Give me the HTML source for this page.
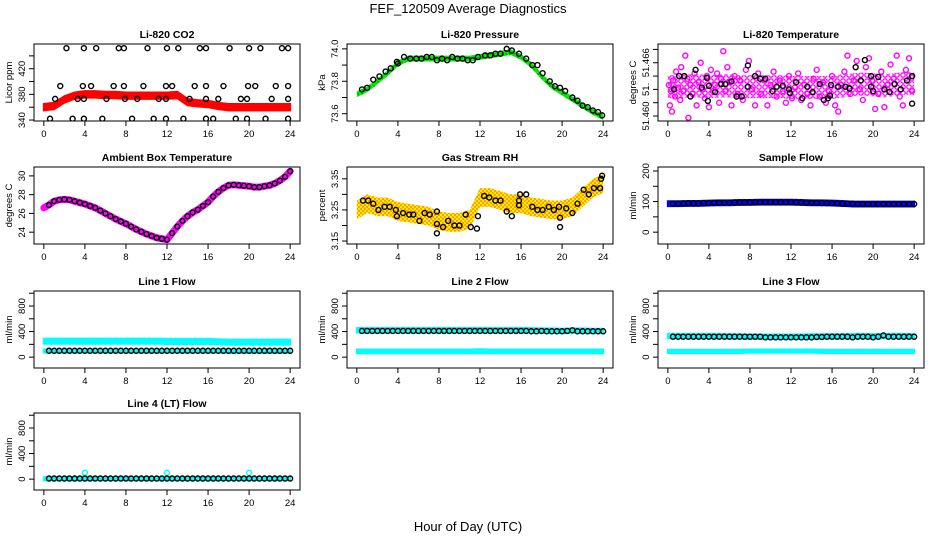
<!DOCTYPE html>
<html><head><meta charset="utf-8"><style>
html,body{margin:0;padding:0;background:#fff}
svg{display:block}
text{font-family:"Liberation Sans",sans-serif;fill:#000}
.t{font-size:10.5px;font-weight:bold}
.tk{font-size:9.5px}
</style></head><body>
<svg id="chart" width="936" height="540" viewBox="0 0 936 540" xmlns="http://www.w3.org/2000/svg">
<defs>
<pattern id="rhpat" width="4" height="4" patternUnits="userSpaceOnUse"><rect width="4" height="4" fill="#ffee00"/><circle cx="1" cy="1" r="1" fill="#ff8800"/><circle cx="3" cy="3" r="1" fill="#ff8800"/></pattern>
<pattern id="grpat" width="4" height="4" patternUnits="userSpaceOnUse"><rect width="4" height="4" fill="#00ee00"/><circle cx="2" cy="2" r="0.7" fill="#007700"/></pattern>
<pattern id="mgpat" width="6" height="6" patternUnits="userSpaceOnUse"><rect width="6" height="6" fill="#ffffff"/><circle cx="3" cy="3" r="2.2" fill="none" stroke="#ff00ff" stroke-width="1.3"/></pattern>
</defs>
<text x="468" y="13" text-anchor="middle" font-size="13">FEF_120509  Average Diagnostics</text>
<text x="468" y="531" text-anchor="middle" font-size="13">Hour of Day (UTC)</text>
</svg>
<script>
// ---- data ----
const hourTicks=[0,4,8,12,16,20,24];
const halfHours=[0.5,1,1.5,2,2.5,3,3.5,4,4.5,5,5.5,6,6.5,7,7.5,8,8.5,9,9.5,10,10.5,11,11.5,12,12.5,13,13.5,14,14.5,15,15.5,16,16.5,17,17.5,18,18.5,19,19.5,20,20.5,21,21.5,22,22.5,23,23.5,24];
const bandHours=[0,1,2,3,4,5,6,7,8,9,10,11,12,13,14,15,16,17,18,19,20,21,22,23,24];

const co2Band=[360,362,372,378,380,380,379,379,378,378,378,378,378,379,368,366,365,362,360,360,360,360,360,360,360];
const co2Hours=[2.2,3.9,5.1,7.3,7.8,10.1,12,13.1,15.2,15.8,18.1,20,21.1,23.2,23.8,1.6,3.8,4.6,6.8,7.8,9.7,11.9,12.5,14.7,15.8,17.5,19.9,20.6,22.6,23.8,1.1,3.3,3.9,6.1,7.9,9.1,11.2,11.9,14.2,15.8,17,19.2,19.8,22.2,23.8,0.6,2.8,3.9,5.7,8.6,10.7,11.9,13.6,15.8,16.5,18.7,19.8,21.6,23.8];
const co2Values=[452,452,452,452,452,452,452,452,452,452,452,452,452,452,452,393,393,393,393,393,393,393,393,393,393,393,393,393,393,393,373,373,373,373,373,373,373,373,373,373,373,373,373,373,373,342,342,342,342,342,342,342,342,342,342,342,342,342,342];

const presBand=[73.72,73.75,73.80,73.85,73.91,73.94,73.94,73.94,73.94,73.94,73.94,73.94,73.95,73.96,73.97,73.98,73.95,73.90,73.83,73.77,73.73,73.69,73.65,73.61,73.58];
const presHours=[0.5,1.0,1.6,2.2,2.8,3.3,3.9,4.0,4.6,5.2,5.8,6.3,6.8,7.3,7.8,8.3,8.8,9.3,9.8,10.3,10.8,11.3,11.8,12.5,13.0,13.5,14.0,14.6,15.1,15.8,16.5,17.1,17.6,18.1,18.8,19.3,19.8,20.3,21.0,21.5,22.0,22.5,23.0,23.5,23.9];
const presValues=[73.75,73.76,73.81,73.83,73.86,73.88,73.92,73.91,73.95,73.94,73.94,73.94,73.95,73.95,73.93,73.94,73.93,73.95,73.94,73.94,73.93,73.93,73.95,73.96,73.96,73.97,73.97,74.0,73.99,73.97,73.94,73.90,73.90,73.85,73.80,73.77,73.76,73.74,73.70,73.68,73.65,73.64,73.62,73.61,73.59];

const tempHours=[0.1,0.2,0.3,0.4,0.5,0.7,0.8,1.0,1.2,1.3,1.5,1.7,1.9,2.0,2.2,2.4,2.6,2.8,3.0,3.2,3.4,3.6,3.8,4.0,4.2,4.4,4.6,4.8,5.0,5.2,5.4,5.6,5.8,6.0,6.2,6.5,6.8,7.0,7.3,7.6,7.9,8.2,8.5,8.8,9.1,9.4,9.7,10.0,10.3,10.6,10.9,11.2,11.5,11.8,12.1,12.4,12.7,13.0,13.3,13.6,13.9,14.2,14.5,14.8,15.1,15.4,15.7,16.0,16.3,16.6,16.9,17.2,17.5,17.8,18.1,18.4,18.7,19.0,19.3,19.6,19.9,20.2,20.5,20.8,21.1,21.4,21.7,22.0,22.3,22.6,22.9,23.2,23.5,23.8];
const tempValues=[51.4635,51.4612,51.4628,51.4605,51.4640,51.4622,51.4650,51.4632,51.4618,51.4655,51.4628,51.4668,51.4642,51.4598,51.4635,51.4625,51.4648,51.4612,51.4638,51.4660,51.4630,51.4620,51.4645,51.4610,51.4652,51.4628,51.4635,51.4648,51.4615,51.4642,51.4673,51.4628,51.4655,51.4638,51.4612,51.4645,51.4625,51.4640,51.4618,51.4652,51.4662,51.4630,51.4612,51.4648,51.4625,51.4640,51.4612,51.4635,51.4650,51.4622,51.4640,51.4628,51.4615,51.4645,51.4620,51.4632,51.4648,51.4618,51.4635,51.4625,51.4612,51.4642,51.4652,51.4622,51.4638,51.4615,51.4628,51.4645,51.4612,51.4605,51.4635,51.4650,51.4668,51.4625,51.4640,51.4662,51.4630,51.4618,51.4655,51.4665,51.4640,51.4608,51.4625,51.4650,51.4610,51.4635,51.4658,51.4642,51.4668,51.4622,51.4612,51.4652,51.4665,51.4628];
const tempBand=[51.4633,51.4633,51.4634,51.4634,51.4633,51.4634,51.4634,51.4633,51.4633,51.4633,51.4633,51.4633,51.4632,51.4632,51.4632,51.4632,51.4632,51.4634,51.4635,51.4636,51.4635,51.4634,51.4635,51.4637,51.4637];
const tempBlackHours=[0.6,1.1,1.6,2.2,2.7,3.3,3.8,3.9,4.0,4.6,5.2,5.6,6.2,6.7,7.2,7.8,7.8,8.5,9.0,9.5,10.2,10.6,11.2,11.8,11.9,12.5,13.1,13.6,14.1,14.8,15.2,15.6,15.8,15.9,16.6,17.3,17.7,18.3,18.8,19.2,19.8,19.8,20.0,20.5,21.1,21.6,22.1,22.7,23.3,23.8,23.8];
const tempBlackValues=[51.4630,51.4645,51.4645,51.4622,51.4652,51.4632,51.4643,51.4617,51.4634,51.4627,51.4636,51.4636,51.4639,51.4622,51.4622,51.4657,51.4633,51.4645,51.4642,51.4642,51.4628,51.4633,51.4634,51.4630,51.4626,51.4638,51.4620,51.4633,51.4627,51.4636,51.4618,51.4620,51.4623,51.4635,51.4633,51.4633,51.4631,51.4655,51.4640,51.4663,51.4645,51.4633,51.4628,51.4644,51.4630,51.4627,51.4636,51.4630,51.4640,51.4645,51.4614];

const ambientHours=[0,0.5,1,1.5,2,2.5,3,3.5,4,4.5,5,5.5,6,6.5,7,7.5,8,8.5,9,9.5,10,10.5,11,11.5,12,12.5,13,13.5,14,14.5,15,15.5,16,16.5,17,17.5,18,18.5,19,19.5,20,20.5,21,21.5,22,22.5,23,23.5,24];
const ambientValues=[26.6,26.9,27.3,27.45,27.5,27.45,27.3,27.15,27.0,26.8,26.6,26.3,26.0,25.7,25.4,25.15,24.9,24.6,24.3,24.05,23.8,23.6,23.4,23.3,23.2,23.9,24.6,25.2,25.7,26.1,26.4,26.8,27.2,27.8,28.3,28.7,29.0,29.05,29.0,28.95,28.9,28.8,28.8,28.9,29.0,29.2,29.5,29.9,30.5];

const rhBand=[3.25,3.27,3.26,3.26,3.245,3.24,3.235,3.23,3.215,3.21,3.21,3.22,3.29,3.29,3.28,3.27,3.27,3.26,3.255,3.25,3.25,3.26,3.29,3.32,3.335];
const rhHours=[0.6,1.1,1.6,2.1,2.7,3.2,3.8,3.9,4.5,5.1,5.5,6.1,6.6,7.1,7.8,7.8,7.8,8.4,8.9,9.5,10.0,10.6,11.1,11.7,11.8,12.4,12.9,13.5,14.0,14.6,15.1,15.8,15.8,15.9,16.5,17.1,17.6,18.1,18.7,19.2,19.7,19.8,19.8,20.4,21.0,21.5,22.1,22.6,23.1,23.7,23.8,23.9];
const rhValues=[3.28,3.28,3.27,3.25,3.26,3.26,3.25,3.23,3.24,3.235,3.235,3.215,3.24,3.235,3.245,3.205,3.175,3.195,3.215,3.20,3.20,3.235,3.195,3.19,3.23,3.295,3.29,3.28,3.28,3.245,3.23,3.265,3.28,3.30,3.30,3.26,3.25,3.25,3.26,3.25,3.26,3.225,3.195,3.255,3.24,3.27,3.315,3.30,3.32,3.32,3.35,3.36];

const sampleBand=[93,93,94,94,95,96,96,97,97,98,98,98,98,97,96,96,95,94,92,92,92,92,92,92,92];
const sampleValues=[93,93,94,94,94,94,95,95,96,96,96,96,97,97,97,98,98,98,98,98,98,98,98,98,97,97,96,96,96,95,95,95,94,93,93,93,92,92,92,92,92,92,92,92,92,92,92,92];

const line1Cyan=[250,250,250,250,250,250,250,250,250,250,250,250,245,245,245,245,245,240,235,235,235,235,235,235,235];
const line1Low=[95,95,95,95,95,95,95,95,95,95,95,95,95,95,95,95,95,95,90,90,90,90,90,90,90];
const line1Values=[100,100,100,100,100,100,100,100,100,100,100,100,100,100,100,100,100,100,100,100,100,100,100,100,100,100,100,100,100,100,100,100,100,100,100,100,100,100,100,100,100,100,100,100,100,100,100,100];
const line2Cyan=[420,420,420,420,420,420,420,420,420,420,420,420,420,420,420,420,420,420,415,415,410,415,415,410,410];
const line2Low=[90,90,90,90,90,90,90,90,90,90,90,90,95,90,90,90,90,90,90,90,90,90,90,90,90];
const line2Values=[410,410,410,410,410,410,410,410,410,410,410,410,410,410,410,410,410,410,410,410,410,410,410,410,410,410,410,410,410,410,410,410,410,405,405,410,405,405,405,405,410,420,405,405,405,405,405,405];
const line3Cyan=[330,330,330,330,330,330,325,325,320,320,320,320,320,320,325,325,325,325,330,330,325,330,330,330,325];
const line3Low=[90,90,90,90,90,90,90,90,95,95,95,95,95,95,95,90,90,90,90,90,90,90,90,90,90];
const line3Values=[320,320,320,320,320,320,320,320,320,320,320,320,320,320,320,320,320,320,310,310,310,310,310,310,310,310,310,310,315,315,320,320,320,320,320,310,320,320,320,310,320,340,320,320,320,320,320,320];
const line4Cyan=[5,5,5,5,5,5,5,5,5,5,5,5,5,5,5,5,5,5,5,5,5,5,5,5,5];
const line4Values=[10,10,10,10,10,10,10,10,10,10,10,10,10,10,10,10,10,10,10,10,10,10,10,10,10,10,10,10,10,10,10,10,10,10,10,10,10,10,10,10,10,10,10,10,10,10,10,10];
const line4SpikeHours=[4,12,20];
const line4SpikeValues=[100,100,100];

// ---- rendering ----
const svg=document.getElementById('chart');
const NS='http://www.w3.org/2000/svg';
function mk(tag,attrs,parent){const e=document.createElementNS(NS,tag);for(const k in attrs)e.setAttribute(k,attrs[k]);(parent||svg).appendChild(e);return e;}
const colLeft=[34,347,658], rowTop=[44,167,291,413], W=266, H=77;

function panel(col,row,title,ylab,ymin,ymax,ticks,labels,key){
  const L=colLeft[col],T=rowTop[row];
  const g=mk('g',{});
  
  
  const xs=h=>L+(h+0.96)/25.92*W;
  const ys=v=>T+H-(v-ymin)/(ymax-ymin)*H;
  const plot=mk('g',{},g);
  
  
  const fr=mk('rect',{x:L,y:T,width:W,height:H,fill:'none',stroke:'#000','stroke-width':1},g);
  
  
  const tt=mk('text',{x:L+W/2,y:T-6,'text-anchor':'middle',class:'t'},g);tt.textContent=title;
  
  
  const yl=mk('text',{x:L-22,y:T+H/2,'text-anchor':'middle',class:'tk',transform:`rotate(-90 ${L-22} ${T+H/2})`},g);yl.textContent=ylab;
  
  
  mk('line',{x1:xs(0),x2:xs(24),y1:T+H,y2:T+H,stroke:'#000'},g);
  hourTicks.forEach(h=>{
    mk('line',{x1:xs(h),x2:xs(h),y1:T+H,y2:T+H+5,stroke:'#000'},g);
    const t=mk('text',{x:xs(h),y:T+H+16,'text-anchor':'middle',class:'tk'},g);t.textContent=h;
    
    
  });
  mk('line',{x1:L,x2:L,y1:ys(ticks[0]),y2:ys(ticks[ticks.length-1]),stroke:'#000'},g);
  ticks.forEach((v,i)=>{
    mk('line',{x1:L-5,x2:L,y1:ys(v),y2:ys(v),stroke:'#000'},g);
    if(labels[i]){const t=mk('text',{x:L-9,y:ys(v),'text-anchor':'middle',class:'tk',transform:`rotate(-90 ${L-9} ${ys(v)})`},g);t.textContent=labels[i];
      
      }
  });
  const clip=mk('clipPath',{id:'c'+key},g);mk('rect',{x:L,y:T,width:W,height:H},clip);
  const inner=mk('g',{'clip-path':`url(#c${key})`},plot);
  return {xs,ys,g:inner};
}
function band(p,hours,center,half,fill,name){
  let pts=[];
  hours.forEach((h,i)=>pts.push(p.xs(h)+','+p.ys(center[i]+half)));
  for(let i=hours.length-1;i>=0;i--)pts.push(p.xs(hours[i])+','+p.ys(center[i]-half));
  const e=mk('polygon',{points:pts.join(' '),fill:fill,stroke:fill.startsWith('url')?'none':fill,'stroke-width':2},p.g);
  
  
}
function pts(p,hours,vals,color,name,r,sw){
  const grp=mk('g',{},p.g);
  
  
  const n=Math.min(hours.length,vals.length);
  for(let i=0;i<n;i++){const c=mk('circle',{cx:p.xs(hours[i]),cy:p.ys(vals[i]),r:r||2.5,fill:'none',stroke:color,'stroke-width':sw||1.4},grp);
    
    }
}
function line(p,hours,vals,color,w,name){
  const e=mk('polyline',{points:hours.map((h,i)=>p.xs(h)+','+p.ys(vals[i])).join(' '),fill:'none',stroke:color,'stroke-width':w,'stroke-linejoin':'round','stroke-linecap':'round'},p.g);
  
  
}

let p=panel(0,0,'Li-820 CO2','Licor ppm',338.5,458.5,[340,360,380,400,420,440],['340','','380','','420',''],'co2');
band(p,bandHours,co2Band,5,'#ff0000','co2-red-band');
pts(p,co2Hours,co2Values,'#000','co2-black-series');
p=panel(1,0,'Li-820 Pressure','kPa',73.555,74.03,[73.6,73.7,73.8,73.9,74.0],['73.6','','73.8','','74.0'],'pressure');
band(p,bandHours,presBand,0.018,'url(#grpat)','pressure-green-band');
pts(p,presHours,presValues,'#000','pressure-black-series');
p=panel(2,0,'Li-820 Temperature','degrees C',51.45944,51.46811,[51.46,51.4615,51.463,51.4645,51.466,51.4675],['51.460','','51.','','51.466',''],'li-temp');
band(p,bandHours,tempBand,0.0013,'url(#mgpat)','temp-magenta-band');
pts(p,tempHours,tempValues,'#ff00ff','temp-magenta-series');
pts(p,tempBlackHours,tempBlackValues,'#000','temp-black-series');
p=panel(0,1,'Ambient Box Temperature','degrees C',22.74,30.95,[24,26,28,30],['24','26','28','30'],'ambient');
line(p,ambientHours,ambientValues,'#ff00ff',7,'ambient-magenta-line');
pts(p,ambientHours.slice(1),ambientValues.slice(1),'#000','ambient-black-series',2.4,1.4);
p=panel(1,1,'Gas Stream RH','percent',3.1405,3.388,[3.15,3.20,3.25,3.30,3.35],['3.15','','3.25','','3.35'],'rh');
band(p,bandHours,rhBand,0.03,'url(#rhpat)','rh-orange-band');
pts(p,rhHours,rhValues,'#000','rh-black-series');
p=panel(2,1,'Sample Flow','ml/min',-38.7,213,[0,50,100,150,200],['0','','100','','200'],'sample-flow');
band(p,bandHours,sampleBand,8,'#0000ff','sample-blue-band');
pts(p,halfHours,sampleValues,'#000','sample-black-series');
const fT=[0,200,400,600,800,1000],fL=['0','','400','','800',''];
p=panel(0,2,'Line 1 Flow','ml/min',-170,1035,fT,fL,'line1');
band(p,bandHours,line1Cyan,40,'#00ffff','line1-cyan-band');
band(p,bandHours,line1Low,25,'#00ffff','line1-cyan-low-band');
pts(p,halfHours,line1Values,'#000','line1-black-series');
p=panel(1,2,'Line 2 Flow','ml/min',-170,1035,fT,fL,'line2');
band(p,bandHours,line2Cyan,35,'#00ffff','line2-cyan-band');
band(p,bandHours,line2Low,30,'#00ffff','line2-cyan-low-band');
pts(p,halfHours,line2Values,'#000','line2-black-series');
p=panel(2,2,'Line 3 Flow','ml/min',-170,1035,fT,fL,'line3');
band(p,bandHours,line3Cyan,35,'#00ffff','line3-cyan-band');
band(p,bandHours,line3Low,25,'#00ffff','line3-cyan-low-band');
pts(p,halfHours,line3Values,'#000','line3-black-series');
p=panel(0,3,'Line 4 (LT) Flow','ml/min',-170,1035,fT,fL,'line4');
band(p,bandHours,line4Cyan,25,'#00ffff','line4-cyan-band');
pts(p,line4SpikeHours,line4SpikeValues,'#00ffff','line4-cyan-spikes');
pts(p,halfHours,line4Values,'#000','line4-black-series');
</script>
</body></html>
